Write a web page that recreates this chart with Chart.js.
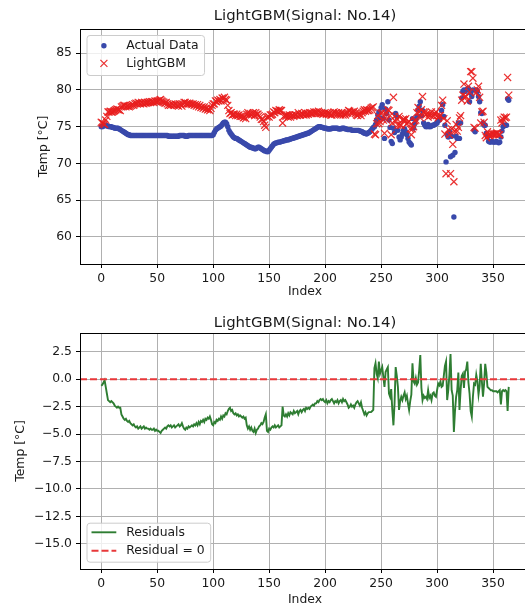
<!DOCTYPE html>
<html><head><meta charset="utf-8">
<script src="https://cdn.jsdelivr.net/npm/chart.js@4.4.1/dist/chart.umd.min.js"></script>
<style>
html,body{margin:0;padding:0;overflow:hidden;background:#fff;width:525px;height:606px;}
#c1{position:absolute;left:0;top:0;}
#c2{position:absolute;left:0;top:300px;}
</style></head><body>
<canvas id="c1" width="540" height="300"></canvas>
<canvas id="c2" width="540" height="306"></canvas>
<script>
const titleText = 'LightGBM(Signal: No.14)';
const xLabel = 'Index';
const yLabel = 'Temp [\u00B0C]';
const seriesNames = ['Actual Data', 'LightGBM', 'Residuals', 'Residual = 0'];

const actual = [
75.0,75.0,75.1,75.2,75.2,75.1,75.1,75.0,75.0,75.0,
74.9,74.9,74.8,74.8,74.8,74.8,74.7,74.6,74.5,74.4,
74.3,74.2,74.1,74.0,73.9,73.9,73.8,73.8,73.8,73.8,
73.8,73.8,73.8,73.8,73.8,73.8,73.8,73.8,73.8,73.8,
73.8,73.8,73.8,73.8,73.8,73.8,73.8,73.8,73.8,73.8,
73.8,73.8,73.8,73.8,73.8,73.8,73.8,73.8,73.8,73.8,
73.7,73.7,73.7,73.7,73.7,73.7,73.7,73.7,73.7,73.7,
73.8,73.8,73.8,73.8,73.8,73.7,73.7,73.7,73.8,73.8,
73.8,73.8,73.8,73.8,73.8,73.8,73.8,73.8,73.8,73.8,
73.8,73.8,73.8,73.8,73.8,73.8,73.8,73.8,73.8,73.8,
73.9,74.2,74.5,74.7,74.8,74.9,75.0,75.1,75.3,75.5,
75.6,75.6,75.4,75.0,74.5,74.2,74.0,73.8,73.6,73.5,
73.4,73.4,73.3,73.2,73.1,73.0,72.9,72.8,72.7,72.6,
72.5,72.4,72.3,72.2,72.2,72.1,72.1,72.0,72.0,72.1,
72.2,72.2,72.1,72.0,71.9,71.8,71.7,71.7,71.6,71.6,
71.8,72.0,72.2,72.4,72.6,72.7,72.8,72.8,72.9,72.9,
72.9,73.0,73.0,73.1,73.1,73.2,73.2,73.2,73.3,73.3,
73.4,73.4,73.5,73.5,73.6,73.6,73.7,73.7,73.8,73.8,
73.9,73.9,74.0,74.0,74.1,74.1,74.2,74.3,74.4,74.5,
74.6,74.7,74.8,74.9,75.0,75.0,75.0,74.9,74.9,74.8,
74.8,74.8,74.7,74.7,74.7,74.7,74.8,74.8,74.8,74.8,
74.8,74.8,74.7,74.7,74.7,74.8,74.8,74.8,74.7,74.7,
74.6,74.6,74.6,74.6,74.5,74.5,74.5,74.5,74.5,74.5,
74.5,74.4,74.4,74.3,74.2,74.1,74.1,74.0,74.1,74.2,
74.3,74.5,74.7,74.9,75.0,75.3,75.9,76.6,77.0,76.2,
77.6,78.0,76.1,73.4,77.4,76.8,78.4,75.9,74.9,73.0,
72.7,74.8,74.2,76.8,76.4,74.5,73.6,73.2,73.6,74.0,
74.5,74.7,74.3,73.9,73.4,72.9,72.7,72.5,76.1,74.8,
75.4,76.0,76.4,77.3,77.8,78.4,76.5,77.2,75.5,75.2,
75.0,75.0,75.3,75.0,75.0,75.1,75.2,75.2,75.3,75.4,
75.5,75.8,75.9,76.3,77.2,78.0,76.4,75.2,70.2,73.9,
73.6,74.3,70.9,73.7,71.1,62.7,71.5,73.7,73.4,75.5,
73.4,75.5,78.9,79.8,80.0,79.8,80.0,80.1,80.2,78.4,
79.6,79.1,80.0,74.5,74.3,80.0,79.8,79.1,78.4,76.9,
76.8,75.5,75.2,75.2,74.1,73.6,73.0,72.9,72.9,73.0,
72.9,72.9,72.9,73.0,72.9,72.8,72.9,73.6,74.4,75.0,
75.2,75.2,75.2,78.8,78.6
];

const lightgbm = [
75.6,75.5,75.4,75.3,75.9,76.4,77.0,77.0,77.1,77.0,
77.0,77.1,77.2,77.3,77.4,77.3,77.3,77.2,77.7,77.8,
77.9,77.9,77.7,77.8,77.8,77.7,77.8,77.9,78.0,77.9,
78.1,78.2,78.1,78.3,78.2,78.1,78.3,78.2,78.1,78.3,
78.2,78.3,78.3,78.4,78.3,78.4,78.4,78.3,78.5,78.4,
78.5,78.5,78.6,78.7,78.5,78.4,78.3,78.2,78.3,78.1,
77.9,78.0,77.9,78.1,78.0,77.9,78.1,78.0,77.9,77.8,
78.1,78.0,77.8,78.1,78.3,78.3,78.1,78.2,78.1,78.2,
78.1,78.0,78.1,77.9,78.0,77.8,78.0,77.7,77.9,77.6,
77.7,77.5,77.7,77.4,77.5,77.3,77.4,77.2,77.5,77.9,
78.1,78.1,78.5,78.4,78.6,78.5,78.7,78.5,78.9,78.8,
79.0,78.7,78.6,77.9,77.2,76.8,76.9,76.6,76.7,76.7,
76.5,76.7,76.5,76.6,76.4,76.4,76.4,76.2,76.3,76.1,
76.7,76.9,76.6,76.8,76.6,76.8,76.9,76.5,76.9,76.7,
76.7,76.5,76.3,76.0,76.0,75.7,75.2,74.9,76.3,76.4,
76.3,76.6,76.6,76.7,77.0,76.9,77.2,77.1,77.1,77.3,
77.2,77.2,75.5,76.4,76.5,76.4,76.6,76.3,76.6,76.3,
76.5,76.6,76.4,76.6,76.6,76.5,76.9,76.6,76.6,76.8,
76.7,76.6,76.9,76.6,76.8,76.7,76.9,76.8,76.8,76.8,
77.0,76.9,77.0,76.9,77.1,76.9,76.8,76.8,76.7,76.8,
76.9,76.7,76.9,76.7,76.8,76.6,76.6,76.8,77.0,76.8,
76.9,76.7,76.9,76.7,76.6,76.9,76.6,76.8,76.6,76.8,
76.9,77.2,77.1,76.9,77.0,76.9,77.1,76.8,76.6,76.5,
76.7,76.8,76.5,76.9,77.1,77.3,77.1,77.3,77.2,77.2,
77.3,77.5,77.6,77.7,74.0,73.9,75.4,76.5,75.4,75.7,
76.8,76.9,75.9,74.1,76.8,75.9,77.3,77.2,76.5,73.9,
75.5,79.0,76.4,75.7,76.1,75.2,76.4,75.2,75.2,75.9,
76.0,75.9,76.1,75.4,75.6,75.7,74.7,73.9,74.7,75.0,
75.8,75.9,76.9,77.6,77.0,76.2,77.3,79.1,77.0,76.9,
76.6,76.8,76.3,76.7,76.5,77.0,76.5,76.4,76.8,77.0,
76.5,76.2,76.5,76.5,77.9,78.6,76.1,74.0,68.6,75.8,
74.6,73.9,68.6,74.7,72.6,67.5,74.4,75.3,74.4,74.9,
76.2,76.5,78.6,79.3,80.8,79.1,79.1,78.5,80.5,79.7,
82.5,82.5,81.6,74.9,74.8,79.6,80.0,80.5,79.0,75.5,
77.0,77.1,75.6,73.8,73.5,74.3,73.8,73.8,73.9,74.0,
74.0,74.0,74.0,74.1,74.1,73.9,73.9,75.9,75.5,76.0,
76.3,76.2,76.3,81.7,79.3
];

const residuals = [
-0.6,-0.5,-0.3,-0.1,-0.7,-1.3,-1.9,-2.0,-2.1,-2.0,
-2.1,-2.2,-2.4,-2.5,-2.6,-2.5,-2.6,-2.6,-3.2,-3.4,
-3.6,-3.7,-3.6,-3.8,-3.9,-3.8,-4.0,-4.1,-4.2,-4.1,
-4.3,-4.4,-4.3,-4.5,-4.4,-4.3,-4.5,-4.4,-4.3,-4.5,
-4.4,-4.5,-4.5,-4.6,-4.5,-4.6,-4.6,-4.5,-4.7,-4.6,
-4.7,-4.7,-4.8,-4.9,-4.7,-4.6,-4.5,-4.4,-4.5,-4.3,
-4.2,-4.3,-4.2,-4.4,-4.3,-4.2,-4.4,-4.3,-4.2,-4.1,
-4.3,-4.2,-4.0,-4.3,-4.5,-4.6,-4.4,-4.5,-4.3,-4.4,
-4.3,-4.2,-4.3,-4.1,-4.2,-4.0,-4.2,-3.9,-4.1,-3.8,
-3.9,-3.7,-3.9,-3.6,-3.7,-3.5,-3.6,-3.4,-3.7,-4.1,
-4.2,-3.9,-4.0,-3.7,-3.8,-3.6,-3.7,-3.4,-3.6,-3.3,
-3.4,-3.1,-3.2,-2.9,-2.7,-2.6,-2.9,-2.8,-3.1,-3.2,
-3.1,-3.3,-3.2,-3.4,-3.3,-3.4,-3.5,-3.4,-3.6,-3.5,
-4.2,-4.5,-4.3,-4.6,-4.4,-4.7,-4.8,-4.5,-4.9,-4.6,
-4.5,-4.3,-4.2,-4.0,-4.1,-3.9,-3.5,-3.2,-4.7,-4.8,
-4.5,-4.6,-4.4,-4.3,-4.4,-4.2,-4.4,-4.3,-4.2,-4.4,
-4.3,-4.2,-2.5,-3.3,-3.4,-3.2,-3.4,-3.1,-3.3,-3.0,
-3.1,-3.2,-2.9,-3.1,-3.0,-2.9,-3.2,-2.9,-2.8,-3.0,
-2.8,-2.7,-2.9,-2.6,-2.7,-2.6,-2.7,-2.5,-2.4,-2.3,
-2.4,-2.2,-2.2,-2.0,-2.1,-1.9,-1.8,-1.9,-1.8,-2.0,
-2.1,-1.9,-2.2,-2.0,-2.1,-1.9,-1.8,-2.0,-2.2,-2.0,
-2.1,-1.9,-2.2,-2.0,-1.9,-2.1,-1.8,-2.0,-1.9,-2.1,
-2.3,-2.6,-2.5,-2.3,-2.5,-2.4,-2.6,-2.3,-2.1,-2.0,
-2.2,-2.4,-2.1,-2.6,-2.9,-3.2,-3.0,-3.3,-3.1,-3.0,
-3.0,-3.0,-2.9,-2.8,1.0,1.45,0.5,0.1,1.6,0.5,
0.8,1.1,0.2,-0.7,0.65,0.9,1.1,-1.3,-1.6,-0.9,
-2.8,-4.2,-2.2,1.1,0.3,-0.7,-2.8,-2.0,-1.6,-1.9,
-1.5,-1.2,-1.8,-1.5,-2.2,-2.8,-2.0,-1.4,1.45,-0.2,
-0.4,0.1,-0.5,-0.3,0.8,2.2,-0.8,-1.9,-1.5,-1.7,
-1.6,-1.8,-1.0,-1.7,-1.5,-1.9,-1.3,-1.2,-1.5,-1.6,
-1.0,-0.4,-0.55,-0.2,-0.7,-0.6,0.3,1.2,1.6,-1.9,
-1.0,0.4,2.3,-1.0,-1.5,-4.8,-2.9,-1.6,-1.0,0.6,
-2.8,-1.0,0.3,0.5,-0.8,0.7,0.9,1.6,-0.3,-1.3,
-2.9,-3.4,-1.6,-0.4,-0.5,0.4,-0.2,-1.4,-0.6,1.4,
-0.2,-1.6,-0.4,1.4,0.6,-0.7,-0.8,-0.9,-1.0,-1.0,
-1.1,-1.1,-1.1,-1.1,-1.2,-1.1,-1.0,-2.3,-1.1,-1.0,
-1.1,-1.0,-1.1,-2.9,-0.7
];

const xTicks = [0, 50, 100, 150, 200, 250, 300, 350];
const yTicksTop = [60, 65, 70, 75, 80, 85];
const yTicksBottom = [-15, -12.5, -10, -7.5, -5, -2.5, 0, 2.5];
const zeroLevel = [0, 0];

const X_MIN = -19, X_MAX = 383;
const FONT = 'DejaVu Sans';
const FS = 12.4;
const TEXT = '#1a1a1a';
const BLUE = '#3949ab';
const RED = 'rgba(232,30,30,0.92)';
const GREEN = '#2e7d32';
const DASH_RED = '#e8383a';

const toPts = arr => arr.map((v, i) => ({x: i, y: v}));
const fmtMinus = (v, d) => (v < 0 ? '\u2212' : '') + Math.abs(v).toFixed(d);

function decorPlugin(cfg) {
  return {
    id: 'decor' + cfg.id,
    afterDraw(chart) {
      const ctx = chart.ctx, a = chart.chartArea;
      ctx.save();
      ctx.strokeStyle = '#000'; ctx.lineWidth = 1;
      ctx.strokeRect(Math.round(a.left) + 0.5, Math.round(a.top) + 0.5,
        Math.round(a.right - a.left), Math.round(a.bottom - a.top));
      ctx.fillStyle = TEXT;
      ctx.textAlign = 'center'; ctx.textBaseline = 'middle';
      ctx.font = '14.9px "' + FONT + '"';
      ctx.fillText(titleText, (a.left + a.right) / 2, cfg.titleY);
      ctx.font = FS + 'px "' + FONT + '"';
      ctx.fillText(xLabel, (a.left + a.right) / 2, cfg.xLabelY);
      ctx.save();
      ctx.translate(cfg.yLabelX, (a.top + a.bottom) / 2);
      ctx.rotate(-Math.PI / 2);
      ctx.fillText(yLabel, 0, 0);
      ctx.restore();
      const items = cfg.legendItems;
      ctx.font = FS + 'px "' + FONT + '"';
      let tw = 0;
      items.forEach(it => { tw = Math.max(tw, ctx.measureText(it.label).width); });
      const bx = a.left + 6.5, by = cfg.legendTop;
      const bw = 5 + 24.8 + 9.9 + tw + 5.5, bh = cfg.legendH;
      ctx.beginPath();
      if (ctx.roundRect) ctx.roundRect(bx + 0.5, by + 0.5, bw, bh, 3); else ctx.rect(bx + 0.5, by + 0.5, bw, bh);
      ctx.fillStyle = 'rgba(255,255,255,0.8)'; ctx.fill();
      ctx.strokeStyle = '#cccccc'; ctx.lineWidth = 1; ctx.stroke();
      items.forEach((it, k) => {
        const cy = cfg.rowY[k];
        const hx0 = bx + 5, hx1 = bx + 5 + 24.8, hc = (hx0 + hx1) / 2;
        if (it.kind === 'dot') {
          ctx.fillStyle = BLUE; ctx.beginPath(); ctx.arc(hc, cy, 2.7, 0, Math.PI * 2); ctx.fill();
        } else if (it.kind === 'x') {
          ctx.strokeStyle = RED; ctx.lineWidth = 1.2; ctx.beginPath();
          ctx.moveTo(hc - 3.5, cy - 3.5); ctx.lineTo(hc + 3.5, cy + 3.5);
          ctx.moveTo(hc - 3.5, cy + 3.5); ctx.lineTo(hc + 3.5, cy - 3.5); ctx.stroke();
        } else if (it.kind === 'line') {
          ctx.strokeStyle = GREEN; ctx.lineWidth = 1.9; ctx.beginPath();
          ctx.moveTo(hx0, cy); ctx.lineTo(hx1, cy); ctx.stroke();
        } else if (it.kind === 'dash') {
          ctx.strokeStyle = DASH_RED; ctx.lineWidth = 1.9; ctx.setLineDash([7, 3]); ctx.beginPath();
          ctx.moveTo(hx0, cy); ctx.lineTo(hx1, cy); ctx.stroke(); ctx.setLineDash([]);
        }
        ctx.fillStyle = TEXT; ctx.textAlign = 'left'; ctx.textBaseline = 'middle';
        ctx.fillText(it.label, bx + 5 + 24.8 + 9.9, cy + 0.5);
      });
      ctx.restore();
    }
  };
}

function scales(yMin, yMax, yTicks, xHeight, yFmt) {
  const grid = {color: '#b0b0b0', lineWidth: 1, tickLength: 4, tickColor: '#000', drawTicks: true};
  const font = {family: FONT, size: FS};
  return {
    x: {
      type: 'linear', min: X_MIN, max: X_MAX,
      afterBuildTicks: s => { s.ticks = xTicks.map(v => ({value: v})); },
      afterFit: s => { s.height = xHeight; },
      grid: grid, border: {display: true, color: '#000', width: 1},
      ticks: {font: font, color: TEXT, padding: 3, maxRotation: 0, autoSkip: false, callback: v => String(v)}
    },
    y: {
      type: 'linear', min: yMin, max: yMax,
      afterBuildTicks: s => { s.ticks = yTicks.map(v => ({value: v})); },
      afterFit: s => { s.width = 80; },
      grid: grid, border: {display: true, color: '#000', width: 1},
      ticks: {font: font, color: TEXT, padding: 4, autoSkip: false, callback: yFmt}
    }
  };
}

const common = {
  responsive: false, animation: false, devicePixelRatio: 1,
  plugins: {legend: {display: false}, tooltip: {enabled: false}, title: {display: false}}
};

new Chart(document.getElementById('c1'), {
  type: 'scatter',
  data: {datasets: [
    {label: seriesNames[0], data: toPts(actual), order: 2, pointStyle: 'circle', pointRadius: 2.7,
     backgroundColor: BLUE, borderWidth: 0, showLine: false},
    {label: seriesNames[1], data: toPts(lightgbm), order: 1, pointStyle: 'crossRot', pointRadius: 5,
     borderColor: RED, backgroundColor: RED, borderWidth: 1.2, showLine: false}
  ]},
  options: Object.assign({}, common, {
    layout: {padding: {left: 0, top: 29, right: 10, bottom: 0}, autoPadding: false},
    scales: scales(56.3, 88.3, yTicksTop, 36, v => String(v))
  }),
  plugins: [decorPlugin({id: 1, titleY: 16, xLabelY: 292, yLabelX: 44, legendTop: 35, legendH: 40,
    rowY: [45.7, 63.3],
    legendItems: [{label: seriesNames[0], kind: 'dot'}, {label: seriesNames[1], kind: 'x'}]})]
});

new Chart(document.getElementById('c2'), {
  type: 'scatter',
  data: {datasets: [
    {label: seriesNames[2], data: toPts(residuals), order: 2, showLine: true, borderColor: GREEN,
     borderWidth: 1.9, pointRadius: 0, tension: 0, fill: false},
    {label: seriesNames[3], data: [{x: X_MIN, y: zeroLevel[0]}, {x: X_MAX, y: zeroLevel[1]}], order: 1,
     showLine: true, borderColor: DASH_RED, borderWidth: 1.9, borderDash: [7, 3], pointRadius: 0, fill: false}
  ]},
  options: Object.assign({}, common, {
    layout: {padding: {left: 0, top: 33, right: 10, bottom: 0}, autoPadding: false},
    scales: scales(-17.29, 4.21, yTicksBottom, 37, v => fmtMinus(v, 1))
  }),
  plugins: [decorPlugin({id: 2, titleY: 22.7, xLabelY: 299.5, yLabelX: 21, legendTop: 222.7, legendH: 39,
    rowY: [232.3, 250.7],
    legendItems: [{label: seriesNames[2], kind: 'line'}, {label: seriesNames[3], kind: 'dash'}]})]
});
</script>
</body></html>
